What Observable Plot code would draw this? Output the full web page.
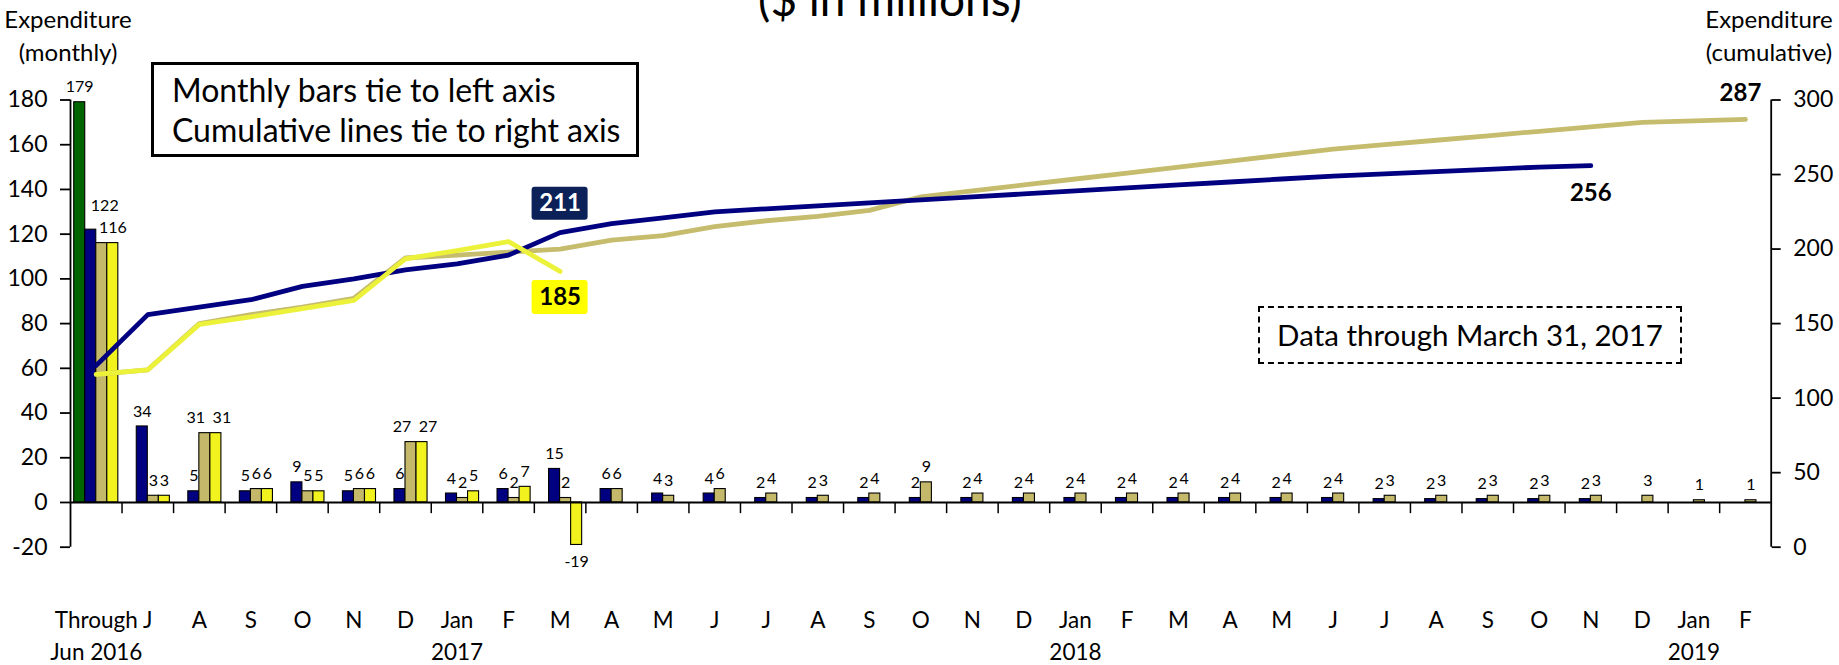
<!DOCTYPE html>
<html><head><meta charset="utf-8">
<script src="https://cdn.jsdelivr.net/npm/d3@7"></script>
<script src="https://cdn.jsdelivr.net/npm/@observablehq/plot@0.6"></script>
<style>
html,body{margin:0;padding:0;background:#fff;}
#wrap{position:relative;width:1839px;height:665px;overflow:hidden;font-family:Lato,"Open Sans",sans-serif;color:#000;}
#wrap svg{position:absolute;left:0;top:0;}
.abs{position:absolute;white-space:nowrap;line-height:1;}
</style></head><body><div id="wrap"></div>
<script>
// ---------- data ----------
const categories = ["Through\nJun 2016","J","A","S","O","N","D","Jan\n2017","F","M","A","M","J","J","A","S","O","N","D","Jan\n2018","F","M","A","M","J","J","A","S","O","N","D","Jan\n2019","F"];
const greenMonthly  = [179];
const blueMonthly   = [122,34,5,5,9,5,6,4,6,15,6,4,4,2,2,2,2,2,2,2,2,2,2,2,2,1.5,1.5,1.5,1.5,1.5];
const goldMonthly   = [116,3,31,6,5,6,27,2,2,2,6,3,6,4,3,4,9,4,4,4,4,4,4,4,4,3,3,3,3,3,3,1,1];
const yellowMonthly = [116,3,31,6,5,6,27,5,7,-19];
const blueCumulative   = [122,156,161,166,175,180,186,190,196,211,217,221,225,227,229,231,233,235,237,239,241,243,245,247,249,250.5,252,253.5,255,256];
const goldCumulative   = [116,119,150,156,161,167,194,196,198,200,206,209,215,219,222,226,235,239,243,247,251,255,259,263,267,270,273,276,279,282,285,286,287];
const yellowCumulative = [116,119,149.5,154.5,160,165.5,193.5,199,205,185];
const leftTicks  = [-20,0,20,40,60,80,100,120,140,160,180];
const rightTicks = [0,50,100,150,200,250,300];

// ---------- layout / style ----------
const W = 1839, H = 665;
const C = {green:"#006400", blue:"#000080", gold:"#c4b96a", yellow:"#f2f21e",
           blueLine:"#000080", goldLine:"#c6bc6e", yellowLine:"#ecf23a", navyBox:"#0c2157", yellowBox:"#ffff00"};
const BW = 0.214;                         // bar width as share of a month
const toLeft = v => -20 + v * 200 / 300;  // right-axis value -> left-axis units
const fmt = v => String(Math.round(v));

const series = [
  {key:"green",  k:0, vals:greenMonthly,  fill:C.green},
  {key:"blue",   k:1, vals:blueMonthly,   fill:C.blue},
  {key:"gold",   k:2, vals:goldMonthly,   fill:C.gold},
  {key:"yellow", k:3, vals:yellowMonthly, fill:C.yellow}
];
const rows = series.flatMap(s => s.vals.map((v, i) => ({i, k:s.k, key:s.key, v})));
const bx1 = d => d.i + 0.5 + (d.k - 2) * BW;
const bxc = d => bx1(d) + BW / 2;
const mid = (d, i) => i + 0.5;

// two-digit gold/yellow labels side by side are pushed apart (as in the original)
const wide = d => Math.abs(Math.round(d.v)) >= 10;
const pairCat = new Set(rows.filter(d => d.key === "yellow" && wide(d) &&
  rows.some(g => g.key === "gold" && g.i === d.i && wide(g))).map(d => d.i));
const isSpread = d => d.i > 0 && pairCat.has(d.i) && (d.key === "gold" || d.key === "yellow");

const posLabels = rows.filter(d => d.v >= 0 && !isSpread(d) && !(d.i === 0 && (d.key === "blue" || d.key === "gold")));
const spreadGold = rows.filter(d => isSpread(d) && d.key === "gold");
const spreadYellow = rows.filter(d => isSpread(d) && d.key === "yellow");
const negLabels = rows.filter(d => d.v < 0);
const firstBlue = rows.filter(d => d.i === 0 && d.key === "blue");

const last = a => ({i: a.length - 1, v: a[a.length - 1]});
const endBlue = last(blueCumulative), endGold = last(goldCumulative), endYellow = last(yellowCumulative);
const lastActualBlue = {i: yellowCumulative.length - 1, v: blueCumulative[yellowCumulative.length - 1]};

const font = "Lato, 'Open Sans', sans-serif";
const chart = Plot.plot({
  width: W, height: H,
  marginTop: 99.5, marginBottom: 118.3, marginLeft: 70, marginRight: 68.3,
  x: {domain: [0, categories.length], axis: null},
  y: {domain: [-20, 180], axis: null},
  style: {fontFamily: font, background: "transparent", color: "#000", overflow: "visible"},
  marks: [
    ...series.map(s => Plot.rect(rows.filter(d => d.key === s.key), {
      x1: bx1, x2: d => bx1(d) + BW, y1: 0, y2: "v",
      fill: s.fill, stroke: "#000", strokeWidth: 1.1
    })),
    Plot.ruleY([0], {x1: 0, x2: categories.length, stroke: "#000", strokeWidth: 1.8}),
    Plot.ruleX(d3.range(1, categories.length), {y1: 0, y2: -5, stroke: "#000", strokeWidth: 1.5}),
    Plot.ruleX([0, categories.length], {y1: -20, y2: 180, stroke: "#000", strokeWidth: 1.8}),
    Plot.axisY(leftTicks, {anchor: "left", label: null, tickSize: 10, tickPadding: 13, tickFormat: d => String(d),
      fontSize: 23, strokeWidth: 1.8}),
    Plot.axisY(rightTicks.map(toLeft), {anchor: "right", label: null, tickSize: 9, tickPadding: 13,
      tickFormat: d => String(Math.round((d + 20) * 300 / 200)), fontSize: 23, strokeWidth: 1.8}),
    Plot.text(categories, {x: mid, frameAnchor: "bottom", text: d => d, lineAnchor: "top",
      dy: 58, fontSize: 22.5, lineHeight: 1.42, textAnchor: "middle"}),
    // bar value labels
    Plot.text(posLabels, {x: bxc, y: "v", text: d => fmt(d.v), dy: -15, fontSize: 16}),
    Plot.text(spreadGold, {x: bxc, y: "v", text: d => fmt(d.v), dx: -9, dy: -15, fontSize: 16}),
    Plot.text(spreadYellow, {x: bxc, y: "v", text: d => fmt(d.v), dx: 6, dy: -15, fontSize: 16}),
    Plot.text(negLabels, {x: bxc, y: "v", text: d => fmt(d.v), dy: 17, fontSize: 16}),
    Plot.text(firstBlue, {x: bxc, y: "v", text: d => fmt(d.v), dx: 14, dy: -24, fontSize: 16}),
    // cumulative lines
    Plot.line(goldCumulative, {x: mid, y: toLeft, stroke: C.goldLine, strokeWidth: 4.8, strokeLinejoin: "round", strokeLinecap: "round"}),
    Plot.line(blueCumulative, {x: mid, y: toLeft, stroke: C.blueLine, strokeWidth: 4.8, strokeLinejoin: "round", strokeLinecap: "round"}),
    Plot.line(yellowCumulative, {x: mid, y: toLeft, stroke: C.yellowLine, strokeWidth: 4.8, strokeLinejoin: "round", strokeLinecap: "round"}),
    // callouts
    Plot.rect([lastActualBlue], {
      x1: d => d.i + 0.5, x2: d => d.i + 0.5, y1: d => toLeft(d.v), y2: d => toLeft(d.v),
      insetLeft: -28, insetRight: -28, insetTop: -16.5, insetBottom: -16.5, dy: -29, fill: C.navyBox, rx: 3}),
    Plot.text([lastActualBlue], {x: d => d.i + 0.5, y: d => toLeft(d.v), text: d => fmt(d.v),
      dy: -29, fill: "#fff", fontWeight: "bold", fontSize: 24}),
    Plot.rect([endYellow], {
      x1: d => d.i + 0.5, x2: d => d.i + 0.5, y1: d => toLeft(d.v), y2: d => toLeft(d.v),
      insetLeft: -28, insetRight: -28, insetTop: -17, insetBottom: -17, dy: 26, fill: C.yellowBox, rx: 3}),
    Plot.text([endYellow], {x: d => d.i + 0.5, y: d => toLeft(d.v), text: d => fmt(d.v),
      dy: 26, fill: "#000", fontWeight: "bold", fontSize: 24}),
    Plot.text([endBlue], {x: d => d.i + 0.5, y: d => toLeft(d.v), text: d => fmt(d.v),
      dy: 28, fill: "#000", fontWeight: "bold", fontSize: 24}),
    Plot.text([endGold], {x: d => d.i + 0.5, y: d => toLeft(d.v), text: d => fmt(d.v),
      dx: -5, dy: -26, fill: "#000", fontWeight: "bold", fontSize: 24})
  ]
});

const wrap = document.getElementById("wrap");
wrap.appendChild(chart);

function addText(txt, css) {
  const el = document.createElement("div");
  el.className = "abs";
  el.textContent = txt;
  Object.assign(el.style, css);
  wrap.appendChild(el);
  return el;
}
// title (cut off at the top as in the reference)
addText("($ in millions)", {left: "0px", width: "1780px", textAlign: "center", top: "-24px", fontSize: "46px"});
// axis titles
addText("Expenditure\n(monthly)", {left: "-32px", width: "200px", textAlign: "center", top: "2px", fontSize: "24px", lineHeight: "33px", whiteSpace: "pre"});
addText("Expenditure\n(cumulative)", {left: "1669px", width: "200px", textAlign: "center", top: "2px", fontSize: "24px", lineHeight: "33px", whiteSpace: "pre"});
// legend box
addText("Monthly bars tie to left axis\nCumulative lines tie to right axis", {
  left: "151px", top: "62px", width: "488px", height: "95px", boxSizing: "border-box",
  border: "3px solid #000", padding: "5px 0 0 18px", fontSize: "32px", lineHeight: "40px", whiteSpace: "pre"});
// data-through box
addText("Data through March 31, 2017", {
  left: "1258px", top: "306px", width: "424px", height: "58px", boxSizing: "border-box",
  border: "2px dashed #000", display: "flex", alignItems: "center", justifyContent: "center",
  fontSize: "29.5px"});
</script>
</body></html>
